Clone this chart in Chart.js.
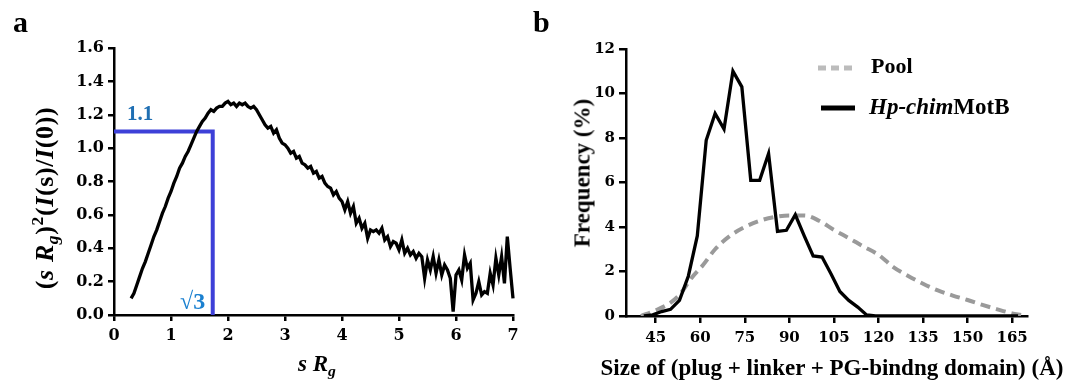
<!DOCTYPE html>
<html><head><meta charset="utf-8">
<script src="https://cdn.jsdelivr.net/npm/chart.js@4.4.1/dist/chart.umd.min.js"></script>
<style>
html,body{margin:0;padding:0;background:#fff;}
#wrap{position:relative;width:1083px;height:380px;overflow:hidden;font-family:"Liberation Serif","Times New Roman",serif;font-weight:bold;color:#000;}
canvas{position:absolute;top:0;}
.t{position:absolute;white-space:nowrap;line-height:1;}
.rot{transform:translate(-50%,-50%) rotate(-90deg);}
.cx{transform:translateX(-50%);}
sub,sup{font-size:0.68em;line-height:0;}
sub{vertical-align:-0.3em;}
sup{vertical-align:0.55em;}
</style></head><body>
<div id="wrap">
<canvas id="ca" width="545" height="380" style="left:0"></canvas>
<canvas id="cb" width="538" height="380" style="left:545px"></canvas>
<div class="t" style="left:13px;top:7px;font-size:30px">a</div>
<div class="t" style="left:533px;top:7px;font-size:30px">b</div>
<div class="t rot" style="left:45px;top:198px;font-size:26px;letter-spacing:0.6px">(<i>s R</i><sub><i>g</i></sub>)<sup>2</sup>(<i>I</i>(s)/<i>I</i>(0))</div>
<div class="t cx" style="left:317px;top:352px;font-size:23px"><i>s R</i><sub><i>g</i></sub></div>
<div class="t" style="left:127px;top:103px;font-size:21px;color:#1f6fb3">1.1</div>
<div class="t" style="left:180px;top:289px;font-size:24px;color:#1a80d0">√3</div>
<div class="t rot" style="left:582px;top:173px;font-size:23px">Frequency (%)</div>
<div class="t cx" style="left:832px;top:356px;font-size:23px">Size of (plug + linker + PG-bindng domain) (Å)</div>
<div class="t" style="left:871px;top:55px;font-size:22px">Pool</div>
<div class="t" style="left:869px;top:95px;font-size:23px"><i>Hp-chim</i>MotB</div>
</div>
<script>
// ---- Panel a: Kratky plot ----
const kratkyS = [0.30,0.35,0.40,0.45,0.50,0.55,0.60,0.65,0.70,0.75,0.80,0.85,0.90,0.95,1.00,1.05,1.10,1.15,1.20,1.25,1.30,1.35,1.40,1.45,1.50,1.55,1.60,1.65,1.70,1.75,1.80,1.85,1.90,1.95,2.00,2.05,2.10,2.15,2.20,2.25,2.30,2.35,2.40,2.45,2.50,2.55,2.60,2.65,2.70,2.75,2.80,2.85,2.90,2.95,3.00,3.05,3.10,3.15,3.20,3.25,3.30,3.35,3.40,3.45,3.50,3.55,3.60,3.65,3.70,3.75,3.80,3.85,3.90,3.95,4.00,4.05,4.10,4.15,4.20,4.25,4.30,4.35,4.40,4.45,4.50,4.55,4.60,4.65,4.70,4.75,4.80,4.85,4.90,4.95,5.00,5.05,5.10,5.15,5.20,5.25,5.30,5.35,5.40,5.45,5.50,5.55,5.60,5.65,5.70,5.75,5.80,5.85,5.90,5.95,6.00,6.05,6.10,6.15,6.20,6.25,6.30,6.35,6.40,6.45,6.50,6.55,6.60,6.65,6.70,6.75,6.80,6.85,6.90,6.95,7.00];
const kratkyI = [0.10,0.13,0.18,0.23,0.28,0.32,0.37,0.42,0.47,0.51,0.56,0.61,0.65,0.70,0.74,0.79,0.83,0.88,0.91,0.95,0.98,1.02,1.06,1.10,1.13,1.16,1.18,1.21,1.23,1.22,1.24,1.25,1.25,1.27,1.28,1.26,1.27,1.25,1.27,1.26,1.27,1.25,1.24,1.25,1.23,1.20,1.17,1.14,1.12,1.13,1.09,1.11,1.06,1.03,1.02,1.00,0.97,0.98,0.94,0.95,0.91,0.90,0.88,0.89,0.85,0.86,0.82,0.83,0.79,0.77,0.76,0.72,0.74,0.70,0.68,0.63,0.68,0.61,0.65,0.55,0.58,0.52,0.55,0.46,0.51,0.50,0.51,0.49,0.52,0.45,0.47,0.41,0.44,0.43,0.39,0.45,0.37,0.40,0.36,0.38,0.34,0.37,0.35,0.22,0.33,0.27,0.35,0.25,0.33,0.24,0.30,0.27,0.22,0.02,0.24,0.27,0.21,0.36,0.28,0.31,0.09,0.13,0.20,0.12,0.14,0.13,0.25,0.18,0.34,0.24,0.35,0.19,0.47,0.28,0.10];
const guideX = [0, 1.732, 1.732];   // sqrt(3)
const guideY = [1.1, 1.1, 0];
const aXTicks = [0,1,2,3,4,5,6,7];
const aYTicks = [0,0.2,0.4,0.6,0.8,1.0,1.2,1.4,1.6];

// ---- Panel b: size distribution ----
const poolSize = [40,45,50,53,57,61,65,70,75,80,85,90,95,100,105,110,115,120,125,130,135,140,145,150,155,160,165,168];
const poolFreq = [0.0,0.25,0.6,0.95,1.7,2.3,3.0,3.6,4.0,4.28,4.45,4.52,4.52,4.28,3.87,3.5,3.12,2.75,2.2,1.8,1.45,1.15,0.92,0.72,0.5,0.3,0.12,0.05];
const chimSize = [41,44,47,50,53,56,59,62,65,68,71,74,77,80,83,86,89,92,95,98,101,104,107,110,113,116,119,167];
const chimFreq = [0.0,0.05,0.2,0.3,0.7,1.8,3.6,7.9,9.1,8.4,11.0,10.3,6.1,6.1,7.3,3.8,3.85,4.55,3.6,2.7,2.65,1.9,1.1,0.7,0.4,0.05,0,0];
const bXTicks = [45,60,75,90,105,120,135,150,165];
const bYTicks = [0,2,4,6,8,10,12];

function pts(xs, ys){ return xs.map((x,i)=>({x:x, y:ys[i]})); }
function setTicks(arr){ return function(s){ s.ticks = arr.map(v=>({value:v})); }; }

function axis(opts){
  return Object.assign({
    type:'linear',
    grid:{display:true, drawOnChartArea:false, drawTicks:true, tickLength:opts.tl, color:'#000', lineWidth:2.5},
    border:{display:true, color:'#000', width:2.5},
    ticks:{color:'#000', padding:opts.pad, font:{family:'"DejaVu Serif", serif', weight:'bold', size:opts.fs}, callback:opts.cb, maxRotation:0, autoSkip:false}
  }, opts.extra);
}

Chart.defaults.animation = false;

new Chart(document.getElementById('ca'), {
  type:'line',
  data:{datasets:[
    {data:pts(kratkyS,kratkyI), borderColor:'#000', borderWidth:3.3, pointRadius:0, tension:0, clip:false},
    {data:pts(guideX,guideY), borderColor:'#3d40d8', borderWidth:4, pointRadius:0, tension:0, borderCapStyle:'butt', borderJoinStyle:'miter'}
  ]},
  options:{
    responsive:false, devicePixelRatio:1,
    layout:{padding:{top:48,right:32,left:0,bottom:0}},
    plugins:{legend:{display:false}, tooltip:{enabled:false}},
    scales:{
      x: axis({tl:6, pad:5, fs:16, cb:v=>String(v), extra:{min:0,max:7, afterBuildTicks:setTicks(aXTicks), afterFit(s){s.height=65;}}}),
      y: axis({tl:6, pad:4, fs:16, cb:v=>Number(v).toFixed(1), extra:{min:0,max:1.6, afterBuildTicks:setTicks(aYTicks), afterFit(s){s.width=114;}}})
    }
  }
});

const legendSamples = {
  id:'legendSamples',
  afterDraw(chart){
    const c = chart.ctx; c.save();
    c.strokeStyle = '#bcbcbc'; c.lineWidth = 5; c.setLineDash([8,5]); c.lineCap='butt';
    c.beginPath(); c.moveTo(818-545,68); c.lineTo(855-545,68); c.stroke();
    c.setLineDash([]); c.strokeStyle = '#000'; c.lineWidth = 5;
    c.beginPath(); c.moveTo(821-545,108); c.lineTo(855-545,108); c.stroke();
    c.restore();
  }
};

new Chart(document.getElementById('cb'), {
  type:'line',
  data:{datasets:[
    {data:pts(chimSize,chimFreq), borderColor:'#000', borderWidth:3.3, pointRadius:0, tension:0},
    {data:pts(poolSize,poolFreq), borderColor:'#9a9a9a', borderWidth:4, borderDash:[10,6], pointRadius:0, cubicInterpolationMode:'monotone'}
  ]},
  options:{
    responsive:false, devicePixelRatio:1,
    layout:{padding:{top:49,right:56,left:0,bottom:0}},
    plugins:{legend:{display:false}, tooltip:{enabled:false}},
    scales:{
      x: axis({tl:7, pad:6, fs:15, cb:v=>String(v), extra:{min:35,max:170, afterBuildTicks:setTicks(bXTicks), afterFit(s){s.height=64;}}}),
      y: axis({tl:7, pad:4, fs:15, cb:v=>String(v), extra:{min:0,max:12, afterBuildTicks:setTicks(bYTicks), afterFit(s){s.width=81;}}})
    }
  },
  plugins:[legendSamples]
});
</script>
</body></html>
